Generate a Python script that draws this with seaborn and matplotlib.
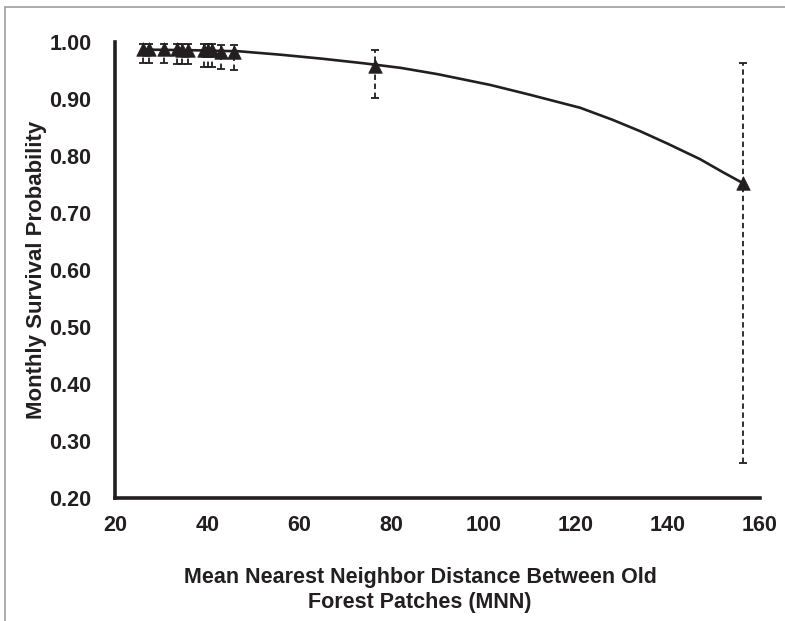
import matplotlib
matplotlib.use("Agg")
import matplotlib.pyplot as plt
import pandas as pd
import seaborn as sns
from matplotlib.lines import Line2D

# observed survival estimates with confidence limits
mnn = [26.1, 27.4, 30.7, 33.5, 34.6, 35.8, 39.3, 40.1, 41.0, 43.0, 45.9, 76.5, 156.3]
survival = [0.987, 0.987, 0.987, 0.987, 0.986, 0.986, 0.986, 0.985, 0.985, 0.982, 0.981, 0.958, 0.752]
upper = [0.996, 0.996, 0.996, 0.996, 0.995, 0.995, 0.995, 0.995, 0.995, 0.994, 0.994, 0.985, 0.963]
lower = [0.963, 0.963, 0.962, 0.960, 0.960, 0.960, 0.955, 0.955, 0.955, 0.952, 0.950, 0.902, 0.262]

# fitted curve
curve_x = [26.1, 36, 47, 56, 65, 74, 82, 90, 101.5, 110, 121, 128, 134, 140, 147, 152, 156.3]
curve_y = [0.986, 0.985, 0.983, 0.977, 0.970, 0.962, 0.954, 0.943, 0.924, 0.907,
           0.884, 0.863, 0.843, 0.821, 0.794, 0.771, 0.752]

y_ticks = [0.20, 0.30, 0.40, 0.50, 0.60, 0.70, 0.80, 0.90, 1.00]
x_ticks = [20, 40, 60, 80, 100, 120, 140, 160]

pts = pd.DataFrame({"mnn": mnn, "surv": survival, "hi": upper, "lo": lower})
fit = pd.DataFrame({"mnn": curve_x, "surv": curve_y})

sns.set_style("white")
plt.rcParams["font.family"] = ["Liberation Sans", "DejaVu Sans"]

ink = "#231f20"
fig = plt.figure(figsize=(7.85, 6.21), dpi=100)
ax = fig.add_axes([0.1465, 0.198, 0.8215, 0.735])

sns.lineplot(data=fit, x="mnn", y="surv", color=ink, linewidth=1.9, ax=ax, zorder=3)

err = ax.errorbar(pts["mnn"], pts["surv"],
                  yerr=[pts["surv"] - pts["lo"], pts["hi"] - pts["surv"]],
                  fmt="none", ecolor=ink, elinewidth=1.3, capsize=3, capthick=1.3, zorder=2)
err[2][0].set_linestyle((0, (3, 2)))

sns.scatterplot(data=pts, x="mnn", y="surv", marker="^", s=95, color=ink,
                edgecolor=ink, linewidth=0.5, ax=ax, zorder=4)

ax.set_xlim(20, 160)
ax.set_ylim(0.20, 1.00)
ax.set_xticks(x_ticks)
ax.set_yticks(y_ticks)
ax.set_yticklabels([f"{v:.2f}" for v in y_ticks], fontsize=15.5, fontweight="bold", color=ink)
ax.set_xticklabels([str(v) for v in x_ticks], fontsize=15.5, fontweight="bold", color=ink)

for side in ["top", "right"]:
    ax.spines[side].set_visible(False)
for side in ["left", "bottom"]:
    ax.spines[side].set_linewidth(2.6)
    ax.spines[side].set_color(ink)
ax.tick_params(axis="both", direction="out", length=5, width=2, color=ink)
ax.tick_params(axis="y", pad=12)
ax.tick_params(axis="x", pad=7)

ax.set_ylabel("Monthly Survival Probability", fontsize=16, fontweight="bold", color=ink)
ax.yaxis.set_label_coords(-0.105, 0.5)
ax.set_xlabel("Mean Nearest Neighbor Distance Between Old\nForest Patches (MNN)",
              fontsize=15.5, fontweight="bold", color=ink, linespacing=1.25)
ax.xaxis.set_label_coords(0.473, -0.152)

# thin grey frame of the original screenshot
fig.add_artist(Line2D([0.006, 1.0], [0.989, 0.989], color="#a0a0a0", linewidth=1.2))
fig.add_artist(Line2D([0.006, 0.006], [0.0, 0.989], color="#a0a0a0", linewidth=1.2))

fig.savefig("out.png", dpi=100)
